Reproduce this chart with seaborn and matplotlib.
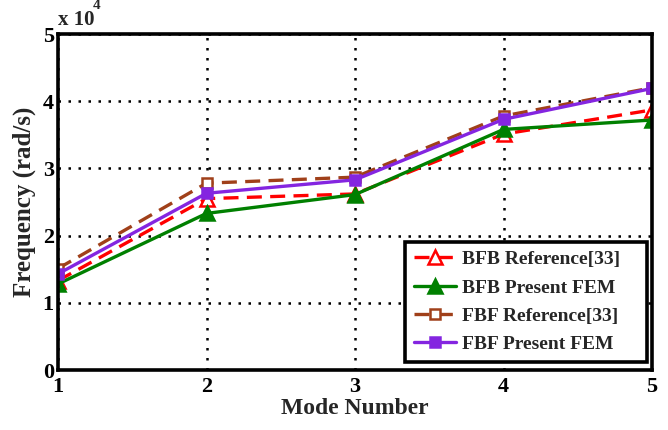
import matplotlib
matplotlib.use("Agg")
import matplotlib.pyplot as plt
import matplotlib.ticker as mticker
import seaborn as sns
import pandas as pd

modes = [1, 2, 3, 4, 5]
bfb_reference = [13300, 25500, 26200, 35100, 38700]
bfb_present = [12800, 23300, 26100, 35800, 37200]
fbf_reference = [15100, 27800, 28700, 37800, 42000]
fbf_present = [14300, 26300, 28300, 37300, 41900]

labels = ["BFB Reference[33]", "BFB Present FEM", "FBF Reference[33]", "FBF Present FEM"]
series = [bfb_reference, bfb_present, fbf_reference, fbf_present]
colors = ["#ff0000", "#008000", "#a0401a", "#8425e0"]
styles = [(0, (4.5, 2.5)), "-", (0, (4.5, 2.5)), "-"]
markers = ["^", "^", "s", "s"]
sizes = [9.5, 9.5, 7.5, 7.5]
faces = ["white", "#008000", "white", "#8425e0"]

sns.set_theme(style="white")
plt.rcParams["font.family"] = ["Liberation Serif", "DejaVu Serif"]
plt.rcParams["font.weight"] = "bold"

fig = plt.figure(figsize=(6.68, 4.30), dpi=100)
ax = fig.add_axes([58 / 668, 60 / 430, 594 / 668, 336 / 430])

for lab, vals, c, ls, m, ms, fc in zip(labels, series, colors, styles, markers, sizes, faces):
    df = pd.DataFrame({"Mode": modes, "Freq": vals})
    sns.lineplot(data=df, x="Mode", y="Freq", ax=ax, color=c, linewidth=2.4,
                 linestyle=ls, marker=m, markersize=ms, markerfacecolor=fc,
                 markeredgecolor=c, markeredgewidth=1.8, label=lab)

ax.set_xlim(1, 5)
ax.set_ylim(0, 50000)
ax.set_xticks(modes)
ax.set_yticks([0, 10000, 20000, 30000, 40000, 50000])
ax.yaxis.set_major_formatter(mticker.FuncFormatter(lambda v, p: f"{v / 1e4:g}"))
ax.grid(True, color="black", linestyle=(0, (1, 3)), linewidth=1.8)
for s in ax.spines.values():
    s.set_color("black")
    s.set_linewidth(2.6)
ax.tick_params(axis="both", direction="in", length=5, width=1.5, colors="black",
               labelsize=16, pad=3)
ax.tick_params(axis="x", pad=5)
for t in ax.get_xticklabels() + ax.get_yticklabels():
    t.set_fontweight("bold")

ax.set_xlabel("Mode Number", fontsize=17, fontweight="bold", labelpad=1)
ax.set_ylabel("Frequency (rad/s)", fontsize=18, fontweight="bold", labelpad=5)

ax.text(0.0, 1.012, "x 10", transform=ax.transAxes, fontsize=15, fontweight="bold",
        ha="left", va="bottom")
ax.text(0.058, 1.065, "4", transform=ax.transAxes, fontsize=11, fontweight="bold",
        ha="left", va="bottom")

# legend box stretched over a fixed horizontal span inside the axes
leg = ax.legend(loc="lower left", bbox_to_anchor=(0.584, 0.024, 0.407, 0.3),
                mode="expand", frameon=True, fancybox=False,
                prop={"size": 14, "weight": "bold"},
                handlelength=2.2, borderpad=0.45, labelspacing=0.55, handletextpad=0.3,
                borderaxespad=0)
leg.get_frame().set_edgecolor("black")
leg.get_frame().set_linewidth(2.6)
leg.get_frame().set_alpha(1)

fig.savefig("out.png", dpi=100)
